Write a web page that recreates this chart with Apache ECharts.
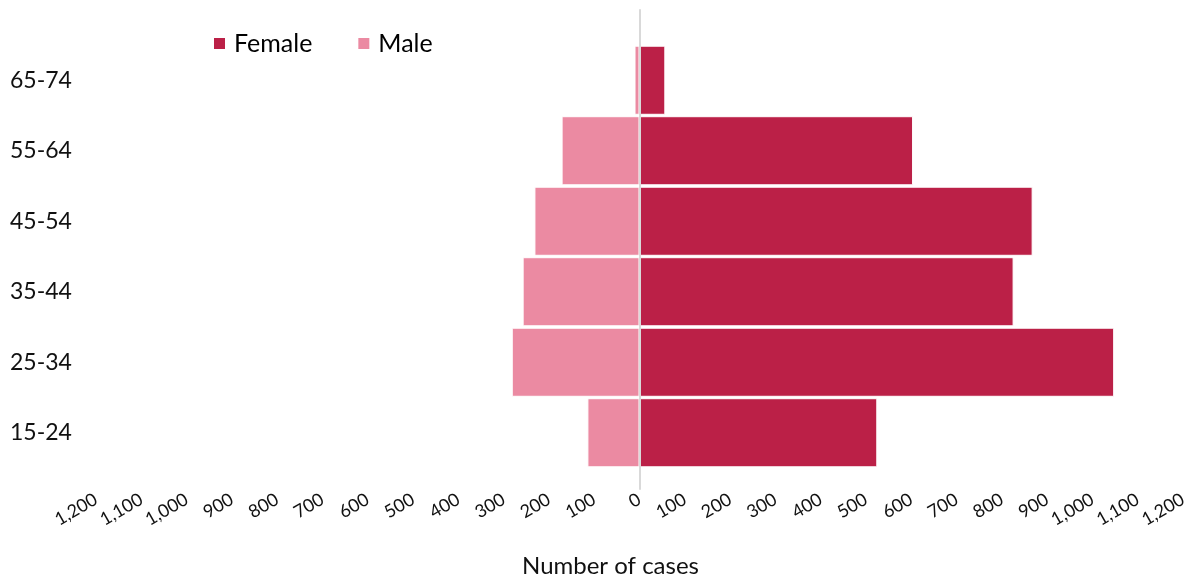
<!DOCTYPE html>
<html>
<head>
<meta charset="utf-8">
<script src="https://cdn.jsdelivr.net/npm/echarts@6/dist/echarts.min.js"></script>
<style>
  html, body { margin: 0; padding: 0; background: #fff; }
  #chart { width: 1198px; height: 583px; }
</style>
</head>
<body>
<div id="chart"></div>
<script>
    // age groups, bottom to top
    const ageGroups = ['15-24', '25-34', '35-44', '45-54', '55-64', '65-74']
    const femaleCases = [525, 1048, 826, 868, 604, 57]
    const maleCases = [115, 282, 258, 232, 172, 11]
    const axisMin = -1200
    const axisMax = 1200
    const axisStep = 100

    const font = 'Lato, "Open Sans", sans-serif'
    const fmt = v => Math.abs(v).toLocaleString('en-US')

    let dom = echarts.init(document.getElementById('chart'))
    let option = {
        textStyle: { fontFamily: font },
        animation: false,
        legend: {
            left: 207,
            top: 26,
            icon: 'rect',
            itemWidth: 13,
            itemHeight: 13,
            itemGap: 44,
            textStyle: { fontSize: 25, color: '#000', fontFamily: font, padding: [0, 0, 0, 3] },
            data: ['Female', 'Male']
        },
        grid: [
            // grid 0 holds the bars
            { left: 96, right: 15, top: 45, bottom: 115 },
            // grid 1 holds the tick labels and the zero line
            { left: 96, right: 15, top: 10, bottom: 78 }
        ],
        xAxis: [
            {
                gridIndex: 0, type: 'value', min: axisMin, max: axisMax, interval: axisStep,
                show: false
            },
            {
                gridIndex: 1, type: 'value', min: axisMin, max: axisMax, interval: axisStep,
                name: 'Number of cases',
                nameLocation: 'middle',
                nameGap: 65,
                nameTextStyle: { fontSize: 24, color: '#111', fontFamily: font, padding: [0, 58, 0, 0] },
                axisLine: { show: false },
                axisTick: { show: false },
                splitLine: { show: false },
                axisLabel: {
                    rotate: 30,
                    margin: 9,
                    fontSize: 18,
                    color: '#111',
                    fontFamily: font,
                    formatter: fmt
                }
            }
        ],
        yAxis: [
            {
                gridIndex: 0, type: 'category', data: ageGroups,
                axisLine: { show: false },
                axisTick: { show: false },
                axisLabel: {
                    align: 'left',
                    margin: 86,
                    fontSize: 23,
                    color: '#111',
                    fontFamily: font
                }
            },
            {
                gridIndex: 1, type: 'value', min: 0, max: 1,
                z: 10,
                axisLine: { show: true, onZero: true, lineStyle: { color: '#d9d9d9', width: 2 } },
                axisTick: { show: false },
                axisLabel: { show: false },
                splitLine: { show: false }
            }
        ],
        series: [
            {
                name: 'Female',
                type: 'bar',
                xAxisIndex: 0,
                yAxisIndex: 0,
                barGap: '-100%',
                barCategoryGap: '2%',
                itemStyle: { color: '#bb2047', borderColor: '#fff', borderWidth: 1 },
                data: femaleCases
            },
            {
                name: 'Male',
                type: 'bar',
                xAxisIndex: 0,
                yAxisIndex: 0,
                barGap: '-100%',
                barCategoryGap: '2%',
                itemStyle: { color: '#eb8aa2', borderColor: '#fff', borderWidth: 1 },
                data: maleCases.map(v => -v)
            }
        ]
    }
    dom.setOption(option)
    window.addEventListener('resize', dom.resize)
</script>
</body>
</html>
